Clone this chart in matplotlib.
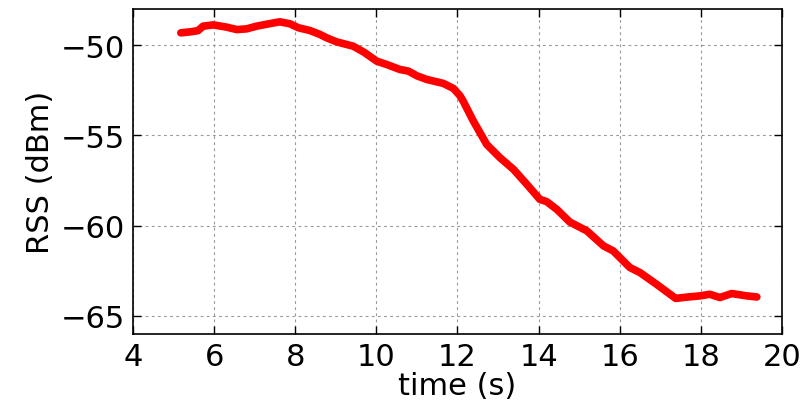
import matplotlib
matplotlib.use("Agg")
import matplotlib.pyplot as plt

time_s = [5.18, 5.43, 5.6, 5.73, 5.98, 6.3, 6.56, 6.8, 7.05, 7.35, 7.62, 7.87,
          8.08, 8.36, 8.61, 8.78, 9.02, 9.43, 9.7, 10.01, 10.25, 10.58, 10.79,
          11.0, 11.24, 11.65, 11.9, 12.06, 12.14, 12.39, 12.72, 13.05, 13.38,
          13.71, 14.03, 14.2, 14.45, 14.77, 15.19, 15.6, 15.84, 16.25, 16.5,
          16.91, 17.15, 17.38, 17.69, 17.98, 18.22, 18.47, 18.76, 19.13, 19.38]
rss_dbm = [-49.32, -49.26, -49.2, -48.95, -48.88, -49.0, -49.14, -49.1, -48.95,
           -48.82, -48.71, -48.82, -49.04, -49.19, -49.41, -49.6, -49.82, -50.06,
           -50.4, -50.89, -51.07, -51.35, -51.44, -51.7, -51.9, -52.12, -52.4,
           -52.8, -53.1, -54.2, -55.5, -56.24, -56.88, -57.71, -58.54, -58.67,
           -59.1, -59.8, -60.29, -61.12, -61.4, -62.32, -62.6, -63.25, -63.65,
           -64.03, -63.95, -63.89, -63.8, -63.98, -63.76, -63.89, -63.95]

x_ticks = [4, 6, 8, 10, 12, 14, 16, 18, 20]
y_ticks = [-65, -60, -55, -50]

fig = plt.figure(figsize=(8.03, 4.10), dpi=100)
ax = fig.add_axes([0.1656, 0.183, 0.8082, 0.7926])
ax.plot(time_s, rss_dbm, color='#ff0000', lw=5.5, solid_joinstyle='round',
        solid_capstyle='round')
ax.set_xlim(4, 20)
ax.set_ylim(-66, -48)
ax.set_xticks(x_ticks)
ax.set_yticks(y_ticks)
ax.grid(True, color='#999999', linestyle=(0, (2.5, 3)), linewidth=0.8)
ax.tick_params(direction='in', length=6, width=1, top=True, right=True,
               labelsize=22, pad=6)
for s in ax.spines.values():
    s.set_linewidth(1.2)
ax.set_xlabel('time (s)', fontsize=22, labelpad=0)
ax.set_ylabel('RSS (dBm)', fontsize=22, labelpad=4)
fig.savefig('out.png', dpi=100)
